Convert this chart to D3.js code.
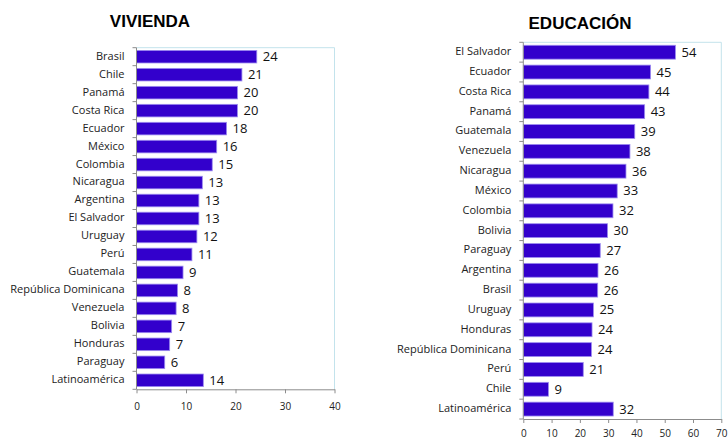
<!DOCTYPE html>
<html><head><meta charset="utf-8">
<script src="https://cdn.jsdelivr.net/npm/d3@7"></script>
<style>body{margin:0;background:#fff}svg{display:block}</style>
</head><body>
<svg id="c" width="728" height="439"></svg>
<script>
const viviendaCats = ["Brasil","Chile","Panamá","Costa Rica","Ecuador","México","Colombia","Nicaragua","Argentina","El Salvador","Uruguay","Perú","Guatemala","República Dominicana","Venezuela","Bolivia","Honduras","Paraguay","Latinoamérica"];
const viviendaVals = [24.3,21.3,20.4,20.4,18.2,16.2,15.3,13.3,12.6,12.6,12.2,11.2,9.4,8.3,8.0,7.1,6.7,5.7,13.5];
const viviendaLabels = [24,21,20,20,18,16,15,13,13,13,12,11,9,8,8,7,7,6,14];
const viviendaTicks = [0,10,20,30,40];

const educacionCats = ["El Salvador","Ecuador","Costa Rica","Panamá","Guatemala","Venezuela","Nicaragua","México","Colombia","Bolivia","Paraguay","Argentina","Brasil","Uruguay","Honduras","República Dominicana","Perú","Chile","Latinoamérica"];
const educacionVals = [53.8,45.0,44.4,42.9,39.4,37.7,36.3,33.2,31.7,29.8,27.2,26.4,26.3,24.8,24.3,24.1,21.2,8.9,31.8];
const educacionLabels = [54,45,44,43,39,38,36,33,32,30,27,26,26,25,24,24,21,9,32];
const educacionTicks = [0,10,20,30,40,50,60,70];

const svg = d3.select("#c");
const FONT = "'Open Sans', sans-serif";

function panel(o){
  const g = svg.append("g");
  const x = d3.scaleLinear().domain(o.domain).range([o.x0, o.x1]);
  const y = d3.scaleBand().domain(o.cats).range([o.y0, o.y1]).paddingInner(0.3).paddingOuter(0.15);
  g.append("path").attr("d", `M${o.x0},${o.y0}H${o.x1}V${o.y1}`)
    .attr("fill","none").attr("stroke","#c3e3ec").attr("stroke-width",1);
  g.selectAll("rect.bar").data(o.cats).join("rect")
    .attr("x", x(0)).attr("y", d=>y(d))
    .attr("width", (d,i)=>x(o.vals[i])-x(0)).attr("height", y.bandwidth())
    .attr("fill","#3300cc").attr("stroke","#9d8cf0").attr("stroke-width",0.8);
  g.selectAll("text.val").data(o.cats).join("text")
    .attr("x",(d,i)=>x(o.vals[i])+6).attr("y", d=>y(d)+y.bandwidth()/2+1)
    .attr("dominant-baseline","middle").attr("font-family",FONT).attr("font-size",13)
    .attr("fill","#111").text((d,i)=>o.labels[i]);
  g.append("line").attr("x1",x(0)).attr("x2",x(0)).attr("y1",o.y0).attr("y2",o.y1).attr("stroke","#8c8c8c");
  const bounds = d3.range(o.cats.length+1).map(i=>o.y0 + i*(o.y1-o.y0)/o.cats.length);
  g.selectAll("line.yt").data(bounds).join("line")
    .attr("x1",x(0)-4).attr("x2",x(0)).attr("y1",d=>d).attr("y2",d=>d).attr("stroke","#8c8c8c");
  g.selectAll("text.cat").data(o.cats).join("text")
    .attr("x", x(0)-12).attr("y", d=>y(d)+y.bandwidth()/2)
    .attr("text-anchor","end").attr("dominant-baseline","middle")
    .attr("font-family",FONT).attr("font-size",11).attr("fill","#222").text(d=>d);
  const ax = g.append("g").attr("transform",`translate(0,${o.y1})`)
    .call(d3.axisBottom(x).tickValues(o.ticks).tickSize(4).tickSizeOuter(0));
  ax.select(".domain").attr("stroke","#8c8c8c");
  ax.selectAll(".tick line").attr("stroke","#8c8c8c");
  ax.selectAll("text").attr("font-family",FONT).attr("font-size",10).attr("fill","#222")
    .attr("y", o.tickBase).attr("dy", null);
  svg.append("text").attr("x",o.tx).attr("y",o.ty).attr("text-anchor","middle")
    .attr("font-family","Arial, 'Liberation Sans', sans-serif").attr("font-weight","bold")
    .attr("font-size",17).attr("fill","#000").text(o.title);
}

panel({cats:viviendaCats, vals:viviendaVals, labels:viviendaLabels, ticks:viviendaTicks,
  domain:[0,40], x0:136.5, x1:334.5, y0:47.7, y1:389.3, tickBase:20.5, title:"VIVIENDA", tx:150, ty:27});
panel({cats:educacionCats, vals:educacionVals, labels:educacionLabels, ticks:educacionTicks,
  domain:[0,70], x0:523.3, x1:721.3, y0:42.3, y1:419, tickBase:17.5, title:"EDUCACIÓN", tx:580, ty:28.5});
</script>
</body></html>
